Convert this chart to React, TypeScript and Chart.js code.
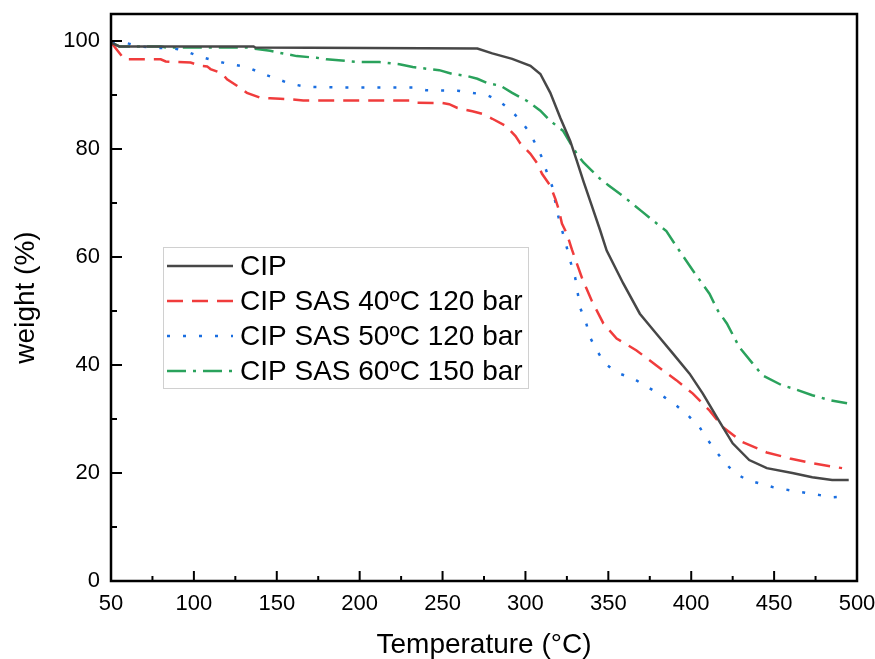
import React, { useEffect, useRef } from "react";
import { Chart, registerables } from "chart.js";

Chart.register(...registerables);

// ---- Data ----
const cipT = [50, 55, 136, 137, 271, 280, 292, 303, 309, 315, 321, 327, 331, 335, 340, 345, 349, 359, 369, 379, 389, 399, 407, 415.5, 425, 435, 445.6, 461, 473, 485, 495];
const cipW = [99.7, 99.0, 99.0, 98.8, 98.6, 97.7, 96.7, 95.4, 93.9, 90.4, 85.8, 81.5, 77.8, 74, 69.5, 65, 61.2, 55.1, 49.5, 45.8, 42.1, 38.4, 34.7, 30.3, 25.5, 22.4, 20.9, 20.0, 19.2, 18.7, 18.7];

const sas40T = [50.5, 54, 58, 80, 83, 98, 104, 108, 110, 117, 120, 128, 132, 140, 146, 152, 158, 166, 189, 230, 232, 250, 254, 259, 268, 274, 280, 288, 294, 297, 303, 307, 310, 315, 318, 320, 322, 325, 328, 334, 340, 347, 355, 367, 379, 391, 401, 411, 419, 431, 445.6, 459.5, 473, 491];
const sas40W = [99.6, 98.2, 96.6, 96.6, 96.2, 96.0, 95.4, 95.3, 94.8, 94.0, 92.9, 91.3, 90.4, 89.5, 89.4, 89.3, 89.2, 89.0, 89.0, 89.0, 88.6, 88.5, 88.3, 87.6, 87.0, 86.5, 85.6, 84.3, 82.4, 81.0, 79.1, 77.4, 75.4, 73.2, 70.8, 68.9, 66.2, 64.3, 61.4, 56.2, 51.9, 47.7, 44.9, 42.7, 39.9, 37.2, 34.7, 31.6, 28.5, 25.7, 23.8, 22.7, 21.8, 20.9];

const sas50T = [50.5, 59.6, 67.5, 77.7, 86.8, 94.6, 102.5, 109.7, 118.8, 127.8, 135, 141.7, 150, 158, 168, 186, 232, 240, 259, 268, 276.8, 283, 289.5, 295.5, 301.5, 306, 310, 313, 316, 320, 325, 327, 330, 333, 336.5, 339, 343, 348, 355, 365, 377, 384, 391, 398, 405, 410, 415.5, 420, 426, 433.6, 441, 449, 459.5, 469.8, 477.6, 485.5, 492];
const sas50W = [99.6, 99.6, 99.0, 98.7, 98.7, 98.2, 97.2, 96.6, 95.9, 95.4, 94.8, 93.9, 93.0, 92.1, 91.5, 91.4, 91.4, 90.9, 90.8, 90.4, 90.0, 89.1, 87.6, 85.8, 83.5, 81.0, 78.4, 75.6, 73.2, 67.3, 61.7, 59.3, 56.2, 50.6, 47.9, 45.1, 42.7, 40.3, 38.6, 37.5, 35.3, 34.0, 32.5, 30.7, 28.5, 26.1, 23.8, 22.0, 20.1, 18.7, 18.1, 17.4, 16.8, 16.3, 15.9, 15.5, 15.6];

const sas60T = [50.5, 55, 80, 83, 132, 138, 146, 152, 162, 174, 180, 192, 200, 212, 224, 232, 242, 248, 256, 265, 271, 277, 285, 292, 301, 309, 315, 322.6, 328, 331, 335, 340, 345, 350, 360, 370, 380, 385, 391, 401, 411, 416, 421.5, 429, 437, 443, 455, 461, 473, 483.6, 494];
const sas60W = [99.7, 99.0, 99.0, 98.8, 98.8, 98.5, 98.2, 97.8, 97.2, 96.9, 96.6, 96.3, 96.1, 96.1, 95.7, 95.2, 94.8, 94.6, 93.9, 93.5, 93.0, 92.2, 91.7, 90.4, 88.9, 87.1, 85.2, 83.4, 80.6, 79.1, 77.5, 76.0, 74.5, 73.3, 71.0, 68.5, 66.0, 64.8, 62.0, 57.5, 53.2, 50.1, 47.7, 43.3, 40.3, 38.1, 36.2, 35.7, 34.4, 33.5, 32.9];

const seriesLabels = ["CIP", "CIP SAS 40ºC 120 bar", "CIP SAS 50ºC 120 bar", "CIP SAS 60ºC 150 bar"];
const xTicks = [50, 100, 150, 200, 250, 300, 350, 400, 450, 500];
const xMinor = [75, 125, 175, 225, 275, 325, 375, 425, 475];
const yTicks = [0, 20, 40, 60, 80, 100];
const yMinor = [10, 30, 50, 70, 90];
const xTitle = "Temperature (°C)";
const yTitle = "weight (%)";

const FONT = "'Liberation Sans', Arial, Helvetica, sans-serif";

function pts(t: number[], w: number[]) {
  return t.map((v, i) => ({ x: v, y: w[i] }));
}

const framePlugin = {
  id: "frameTicks",
  afterDatasetsDraw(chart: any) {
    const { ctx, chartArea, scales } = chart;
    const { left, top, right, bottom } = chartArea;
    const xs = scales.x;
    const ys = scales.y;
    ctx.save();
    ctx.setLineDash([]);
    ctx.strokeStyle = "#000";
    ctx.lineWidth = 2;
    const seg = (x1: number, y1: number, x2: number, y2: number) => {
      ctx.beginPath();
      ctx.moveTo(x1, y1);
      ctx.lineTo(x2, y2);
      ctx.stroke();
    };
    xTicks.forEach((v) => {
      const p = xs.getPixelForValue(v);
      seg(p, bottom, p, bottom - 10);
    });
    xMinor.forEach((v) => {
      const p = xs.getPixelForValue(v);
      seg(p, bottom, p, bottom - 5);
    });
    yTicks.forEach((v) => {
      const p = ys.getPixelForValue(v);
      seg(left, p, left + 11, p);
    });
    yMinor.forEach((v) => {
      const p = ys.getPixelForValue(v);
      seg(left, p, left + 6, p);
    });
    ctx.lineWidth = 2.5;
    ctx.strokeRect(left, top, right - left, bottom - top);

    // legend
    const bx = 163.5, by = 247.5, bw = 365, bh = 141;
    ctx.fillStyle = "#fff";
    ctx.fillRect(bx, by, bw, bh);
    ctx.strokeStyle = "#d0d0d0";
    ctx.lineWidth = 1;
    ctx.strokeRect(bx, by, bw, bh);
    ctx.font = `28px ${FONT}`;
    ctx.textBaseline = "middle";
    ctx.textAlign = "left";
    chart.data.datasets.forEach((ds: any, i: number) => {
      const yy = 266 + 35 * i;
      ctx.strokeStyle = ds.borderColor;
      ctx.lineWidth = ds.borderWidth;
      ctx.setLineDash(ds.borderDash || []);
      ctx.lineCap = ds.borderCapStyle || "butt";
      ctx.beginPath();
      ctx.moveTo(167, yy);
      ctx.lineTo(233, yy);
      ctx.stroke();
      ctx.setLineDash([]);
      ctx.fillStyle = "#000";
      ctx.fillText(ds.label, 240, yy + 1);
    });
    ctx.restore();
  },
};

export default function App() {
  const ref = useRef<HTMLCanvasElement>(null);
  useEffect(() => {
    if (!ref.current) return;
    const chart = new Chart(ref.current, {
      type: "line",
      data: {
        datasets: [
          {
            label: seriesLabels[0],
            data: pts(cipT, cipW),
            borderColor: "#474747",
            borderWidth: 2.5,
          },
          {
            label: seriesLabels[1],
            data: pts(sas40T, sas40W),
            borderColor: "#f03c3c",
            borderWidth: 2.5,
            borderDash: [16, 9],
          },
          {
            label: seriesLabels[2],
            data: pts(sas50T, sas50W),
            borderColor: "#1a6ee0",
            borderWidth: 2.5,
            borderDash: [3, 13],
          },
          {
            label: seriesLabels[3],
            data: pts(sas60T, sas60W),
            borderColor: "#2aa25c",
            borderWidth: 2.5,
            borderDash: [19, 7, 3, 7],
          },
        ] as any,
      },
      options: {
        animation: false,
        responsive: false,
        devicePixelRatio: 1,
        elements: { point: { radius: 0 }, line: { tension: 0 } },
        layout: { padding: { left: 0, right: 18, top: 14, bottom: 0 } },
        plugins: { legend: { display: false }, tooltip: { enabled: false } },
        scales: {
          x: {
            type: "linear",
            min: 50,
            max: 500,
            grid: { display: false, drawTicks: false },
            border: { display: false },
            afterBuildTicks: (s: any) => {
              s.ticks = xTicks.map((v) => ({ value: v }));
            },
            afterFit: (s: any) => {
              s.height = 78;
              s.paddingLeft = 0;
              s.paddingRight = 0;
            },
            ticks: {
              color: "#000",
              font: { family: FONT, size: 22 },
              padding: 10,
              maxRotation: 0,
              autoSkip: false,
            },
            title: {
              display: true,
              text: xTitle,
              color: "#000",
              font: { family: FONT, size: 28, lineHeight: 1 },
              padding: 0,
            },
          },
          y: {
            type: "linear",
            min: 0,
            max: 105,
            grid: { display: false, drawTicks: false },
            border: { display: false },
            afterBuildTicks: (s: any) => {
              s.ticks = yTicks.map((v) => ({ value: v }));
            },
            afterFit: (s: any) => {
              s.width = 111;
              s.paddingTop = 0;
              s.paddingBottom = 0;
            },
            ticks: {
              color: "#000",
              font: { family: FONT, size: 22 },
              padding: 11,
              autoSkip: false,
            },
            title: {
              display: true,
              text: yTitle,
              color: "#000",
              font: { family: FONT, size: 28, lineHeight: 1 },
              padding: { top: 12, bottom: 0 },
            },
          },
        },
      } as any,
      plugins: [framePlugin],
    });
    return () => chart.destroy();
  }, []);
  return (
    <div style={{ position: "fixed", left: 0, top: 0, width: 875, height: 659, background: "#fff" }}>
      <canvas ref={ref} width={875} height={659} style={{ display: "block" }} />
    </div>
  );
}
